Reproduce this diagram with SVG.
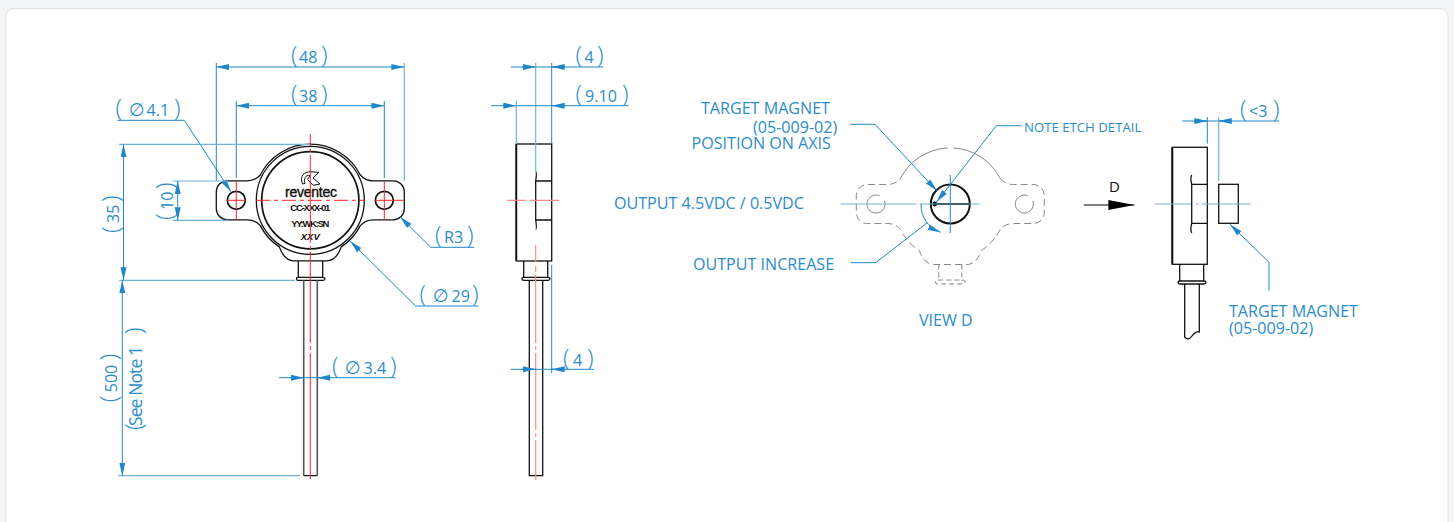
<svg xmlns="http://www.w3.org/2000/svg" width="1454" height="522" viewBox="0 0 1454 522">
<style>
text{font-family:"Open Sans","Noto Sans","DejaVu Sans",sans-serif;fill:#2b8ccb;font-size:16.1px}
.p{font-size:24px;font-weight:300}
.f{font-family:"DejaVu Sans",sans-serif;font-size:18px}
.o{fill:none;stroke:#111;stroke-width:1.3}
.t{fill:none;stroke:#111;stroke-width:2}
.d{fill:none;stroke:#1f87c9;stroke-width:1}
.e{fill:none;stroke:#6fb3de;stroke-width:1.2}
.r{fill:none;stroke:#f22;stroke-width:1}
.rp{fill:none;stroke:#f88;stroke-width:1.2}
.g{fill:none;stroke:#888;stroke-width:1}
.k{font-family:"Liberation Sans",sans-serif;fill:#111;font-weight:700;font-size:9.5px}
.a{marker-end:url(#ah)}
.b{marker-start:url(#ah);marker-end:url(#ah)}
</style>
<defs>
<marker id="ah" markerUnits="userSpaceOnUse" markerWidth="14" markerHeight="8" refX="13" refY="3" orient="auto-start-reverse"><path d="M0 0L13 3L0 6Z" fill="#1f87c9"/></marker>
<marker id="ak" markerUnits="userSpaceOnUse" markerWidth="27" markerHeight="12" refX="26" refY="5" orient="auto"><path d="M0 0L26 5L0 10Z" fill="#000"/></marker>
<path id="outline" d="M-83-19.5H-63Q-55-19.5-50-25.3A56 56 0 0 1 50-25.3Q55-19.5 63-19.5H83A11 11 0 0 1 94-8.5V8.5A11 11 0 0 1 83 19.5H63Q55 19.5 50 25.3A56 56 0 0 1 31 46.6Q26 60.5 16.5 60.5H-16.5Q-26 60.5-31 46.6A56 56 0 0 1-50 25.3Q-55 19.5-63 19.5H-83A11 11 0 0 1-94 8.5V-8.5A11 11 0 0 1-83-19.5Z"/>
<path id="lower" d="M50 25.3A56 56 0 0 1 31 46.6Q26 60.5 16.5 60.5H-16.5Q-26 60.5-31 46.6A56 56 0 0 1-50 25.3Q-55 19.5-63 19.5H-83A11 11 0 0 1-94 8.5V-8.5A11 11 0 0 1-83-19.5H-63Q-55-19.5-50-25.3M50-25.3Q55-19.5 63-19.5H83A11 11 0 0 1 94-8.5V8.5A11 11 0 0 1 83 19.5H63Q55 19.5 50 25.3"/>
</defs>
<rect width="1454" height="522" fill="#f4f5f7"/>
<rect x="6" y="8.5" width="1442" height="530" rx="8" fill="#fff" stroke="#dfe1e4"/>

<g id="front-view">
<use href="#outline" x="310.3" y="200.3" class="o"/>
<circle cx="310.3" cy="200.3" r="54" class="o"/>
<circle cx="310.3" cy="200.3" r="48.6" class="o" style="stroke-width:1.7"/>
<circle cx="236.3" cy="200.3" r="9" class="o" style="stroke-width:1.7"/>
<circle cx="384.3" cy="200.3" r="9" class="o" style="stroke-width:1.7"/>
<path class="o" d="M298.3 261V277.3M322.7 261V277.3M298 277.3H323Q325 277.3 325 278.7T323 280.3H298Q296.5 280.3 296.5 278.7T298 277.3ZM303.7 475.7H317.3"/>
<path d="M303.7 280.3V475.7M317.3 280.3V475.7" fill="none" stroke="#555" stroke-width="1.6"/>
<path d="M302.5 184C299.5 176 304 171.5 311 171.8L319 172.3L313 178L320 184L313 185.3L307.5 179.5L310 175.5C305.5 174.5 303.5 179 305 183.5Z" fill="none" stroke="#111" stroke-width="1"/>
<text x="285" y="197" class="k" style="font-size:14px;font-weight:400;stroke:#111;stroke-width:.4" textLength="52">reventec</text>
<text x="310.3" y="210.7" class="k" text-anchor="middle" textLength="40">CC-XXX-01</text>
<text x="310.3" y="226.7" class="k" text-anchor="middle" textLength="38">YY:WK:SN</text>
<text x="310.3" y="240" class="k" text-anchor="middle" style="font-style:italic">XXV</text>
<path class="r" d="M310.3 134V146M310.3 149V152M310.3 155V243M310.3 246V249M310.3 252V343M310.3 346V350M310.3 353V479"/>
<path class="r" d="M256 200.3H365" stroke-dasharray="14 4 4 4"/>
<path class="r" d="M227 200.3H245.7M375 200.3H403.5M236.3 181V220M384.3 181V220"/>
</g>

<g id="side-view">
<rect x="516.3" y="144" width="35.4" height="117" class="o"/>
<path class="o" d="M516.3 144V261" style="stroke-width:1.8"/>
<path class="o" d="M535.7 181H551.7M535.7 220H551.7M535.7 171.7Q537 172 535.7 181V220Q537 229 535.7 229.3M523.7 261V277.3M547.7 261V277.3M524 277.3H548Q550 277.3 550 278.7T548 280.3H524Q522 280.3 522 278.7T524 277.3ZM529.3 280.3V475.7H542.7V280.3"/>
<path class="rp" d="M507 200.3H526M530 200.3H559M535.7 245V262M535.7 266V272M535.7 275V343M535.7 346V350M535.7 353V430M535.7 433V437M535.7 440V480"/>
</g>

<g id="view-d">
<g transform="translate(950.3 204)" class="g">
<use href="#lower" stroke-dasharray="7 4"/>
<path d="M-50-25.3A56 56 0 0 1-3-56M3-56A56 56 0 0 1 50-25.3"/>
<path d="M-11.5 60.5V77M11.5 60.5V77M-12 76H12Q15 76 15 78T12 80H-12Q-15 80-15 78T-12 76Z" stroke-dasharray="5 3"/>
<path d="M-65.8-3A9 9 0 1 1-70.7-8.2M82.5-3A9 9 0 1 1 77.6-8.2"/>
</g>
<circle cx="950.3" cy="204" r="19.5" class="t"/>
<path class="t" d="M934.7 204H970"/>
<circle cx="934.7" cy="204" r="2.4" fill="#000"/>
</g>

<g id="right-view">
<rect x="1172.3" y="147.3" width="35" height="117" class="o"/>
<path class="o" d="M1172.3 147.3V264.3" style="stroke-width:2"/>
<path class="o" d="M1191.7 184.3H1207.3M1191.7 223.3H1207.3M1191.7 175Q1190 178 1191.7 184.3V223.3Q1190 230 1191.7 233M1179.7 264.3V281M1203.7 264.3V281M1180 281H1204Q1206 281 1206 282.5T1204 284H1180Q1178 284 1178 282.5T1180 281ZM1184.7 284V337C1187 340 1190 339 1192 336S1196 331 1199.3 332V284"/>
<rect x="1218.7" y="184.3" width="19.6" height="39" class="o"/>
</g>

<g id="connectors">
<path class="b" style="stroke:#1f87c9" d="M216.3 67H404.3"/>
<path class="d" d="M216.3 63V181M236.3 101V178M384.3 101V178"/><path class="e" d="M404.3 63V181"/>
<path class="b" style="stroke:#1f87c9" d="M236.3 105.7H384.3"/>
<path class="d a" d="M117.3 120.3H184.3L231 191.7"/>
<path class="e" d="M119 144.3H310M119 280.3H295"/>
<path class="b" style="stroke:#1f87c9" d="M123.5 144.3V280.3"/>
<path class="e" d="M172.7 181H228M172.7 220.3H228"/>
<path class="b" style="stroke:#1f87c9" d="M177.7 181V220.3"/>
<path class="e" d="M118 475.7H300"/>
<path class="b" style="stroke:#1f87c9" d="M122.3 280.3V475.7"/>
<path class="d" d="M279 377.7H395.7"/><path class="d a" d="M290 377.7H303.7"/><path class="d a" d="M331 377.7H317.3"/>
<path class="d a" d="M478.3 306H415.7L350 241"/>
<path class="d a" d="M474 247.3H430.7L400 216.7"/>
<path class="d" d="M510.7 67H603.3"/><path class="d a" d="M522 67H535.7"/><path class="d a" d="M565 67H551.7"/>
<path class="e" d="M535.7 63V171"/><path class="d" d="M551.7 63V144"/>
<path class="d" d="M491 105.7H628.3"/><path class="d a" d="M503 105.7H516.3"/><path class="d a" d="M565 105.7H551.7"/>
<path class="e" d="M516.3 101V144"/>
<path class="d" d="M551.7 265V373M510.7 369.3H594"/><path class="d a" d="M522 369.3H535.7"/><path class="d a" d="M565 369.3H551.7"/>
<path class="d a" d="M850 124.3H875L937 191"/>
<path class="d a" d="M1021.5 125.7H996.4L936.5 202"/>
<path class="d" d="M850.7 262.7H875.7L927.3 222.7"/>
<path class="e" d="M840.7 204H916.5M920 204H979.5"/>
<path class="d" d="M950.3 175V233"/>
<path class="d a" d="M921 204C921 218 928 227 940.7 232.3"/>
<path fill="none" stroke="#000" stroke-width="1" marker-end="url(#ak)" d="M1083.8 205H1134.4"/>
<path class="e" d="M1155 204H1191M1196 204H1199M1202 204H1250.7"/>
<path class="d" d="M1182.3 121H1279M1207.3 117V143.7"/><path class="e" d="M1218.7 117V181"/>
<path class="d a" d="M1194 121H1207.3"/><path class="d a" d="M1232 121H1218.7"/>
<path class="d a" d="M1269 290.7V262.3L1230 224.3"/>
</g>

<g id="labels">
<text y="62.7"><tspan class="p" x="291">(</tspan><tspan x="299">48</tspan><tspan class="p" x="321">)</tspan></text>
<text y="102"><tspan class="p" x="291">(</tspan><tspan x="299">38</tspan><tspan class="p" x="321">)</tspan></text>
<text y="116"><tspan class="p" x="115.5">(</tspan><tspan class="f" x="129">∅</tspan><tspan x="146.5">4.1</tspan><tspan class="p" x="174">)</tspan></text>
<text transform="translate(119 214) rotate(-90)"><tspan class="p" x="-19">(</tspan><tspan x="-9">35</tspan><tspan class="p" x="12">)</tspan></text>
<text transform="translate(172.7 201) rotate(-90)"><tspan class="p" x="-19">(</tspan><tspan x="-9">10</tspan><tspan class="p" x="12">)</tspan></text>
<text transform="translate(116.7 378.3) rotate(-90)"><tspan class="p" x="-24">(</tspan><tspan x="-14">500</tspan><tspan class="p" x="18">)</tspan></text>
<text transform="translate(141.7 378) rotate(-90)"><tspan class="p" x="-52">(</tspan><tspan x="-48" textLength="80" style="font-size:17.5px">See Note 1</tspan><tspan class="p" x="44">)</tspan></text>
<text y="374"><tspan class="p" x="332">(</tspan><tspan class="f" x="345">∅</tspan><tspan x="363.5">3.4</tspan><tspan class="p" x="390">)</tspan></text>
<text y="302.3"><tspan class="p" x="419.5">(</tspan><tspan class="f" x="433">∅</tspan><tspan x="451.5">29</tspan><tspan class="p" x="472">)</tspan></text>
<text y="243"><tspan class="p" x="435">(</tspan><tspan x="444">R3</tspan><tspan class="p" x="467">)</tspan></text>
<text y="62.7"><tspan class="p" x="575.5">(</tspan><tspan x="584.5">4</tspan><tspan class="p" x="597">)</tspan></text>
<text y="102"><tspan class="p" x="575.5">(</tspan><tspan x="585">9.10</tspan><tspan class="p" x="622">)</tspan></text>
<text y="366"><tspan class="p" x="563">(</tspan><tspan x="573">4</tspan><tspan class="p" x="587">)</tspan></text>
<text x="701" y="114">TARGET MAGNET</text>
<text x="753" y="132.7">(05-009-02)</text>
<text x="691.5" y="149">POSITION ON AXIS</text>
<text x="1024" y="131.7" style="font-size:13.2px">NOTE ETCH DETAIL</text>
<text x="614" y="209">OUTPUT 4.5VDC / 0.5VDC</text>
<text x="693" y="270">OUTPUT INCREASE</text>
<text x="919" y="325.7">VIEW D</text>
<text x="1109" y="191.5" style="fill:#111;font-size:15px">D</text>
<text y="116.7"><tspan class="p" x="1240">(</tspan><tspan x="1249">&lt;3</tspan><tspan class="p" x="1273">)</tspan></text>
<text x="1229" y="316.7">TARGET MAGNET</text>
<text x="1229" y="334">(05-009-02)</text>
</g>
</svg>
